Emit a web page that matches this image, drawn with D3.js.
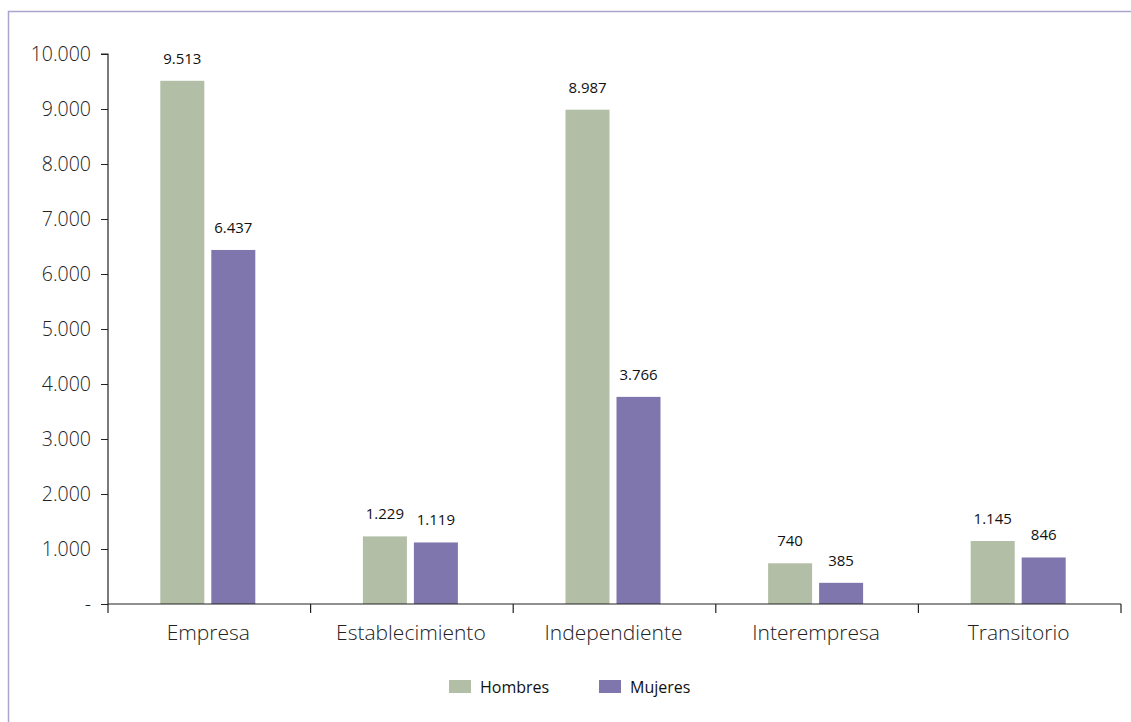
<!DOCTYPE html>
<html><head><meta charset="utf-8">
<script src="https://cdn.jsdelivr.net/npm/d3@7"></script>
<style>
body{margin:0;background:#fff;}
svg{display:block;}
</style></head>
<body><svg id="c" width="1131" height="722"></svg>
<script>
const categories = ["Empresa","Establecimiento","Independiente","Interempresa","Transitorio"];
const series = ["Hombres","Mujeres"];
const hombres = [9513,1229,8987,740,1145];
const mujeres = [6437,1119,3766,385,846];
const valueLabels = [["9.513","1.229","8.987","740","1.145"],["6.437","1.119","3.766","385","846"]];
const yTicks = [0,1000,2000,3000,4000,5000,6000,7000,8000,9000,10000];
const yTickLabels = ["-","1.000","2.000","3.000","4.000","5.000","6.000","7.000","8.000","9.000","10.000"];
const colors = ["#b3bea6","#8076ae"];

const svg = d3.select("#c");
const font = "'Open Sans', sans-serif";
// frame
svg.append("path").attr("d","M8.5,722 V11.5 H1131").attr("fill","none").attr("stroke","#aba4cf").attr("stroke-width",1.5);

const x0 = 108, x1 = 1121, y0 = 604, yTop = 54;
const x = d3.scaleBand().domain(categories).range([x0,x1]).padding(0);
const y = d3.scaleLinear().domain([0,10000]).range([y0,yTop]);
const barW = 44, gap = 7;
const data = [hombres, mujeres];

// bars
series.forEach((s,si)=>{
  const g = svg.append("g");
  categories.forEach((c,ci)=>{
    const cx = x(c) + x.bandwidth()/2 - 1.5;
    const bx = si===0 ? cx - gap/2 - barW : cx + gap/2;
    const v = data[si][ci];
    g.append("rect").attr("x",bx).attr("y",y(v)).attr("width",barW).attr("height",y0-y(v)).attr("fill",colors[si]);
    g.append("text").attr("x",bx+barW/2).attr("y",y(v)-17).attr("text-anchor","middle")
      .attr("font-family",font).attr("font-size",15).attr("fill","#111").text(valueLabels[si][ci]);
  });
});

// y axis
const ya = svg.append("g").attr("transform",`translate(${x0},0)`)
  .call(d3.axisLeft(y).tickValues(yTicks).tickFormat((d,i)=>yTickLabels[i]).tickSize(7).tickPadding(10));
ya.select(".domain").attr("stroke","#222").attr("stroke-width",1.2).attr("d",`M-7,${yTop}H0V${y0}`);
ya.selectAll(".tick line").attr("stroke","#222");
ya.selectAll(".tick text").attr("font-family",font).attr("font-size",19.5).attr("font-weight",300).attr("fill","#222");

// x axis
const xa = svg.append("g").attr("transform",`translate(0,${y0})`);
xa.append("line").attr("x1",x0).attr("x2",x1).attr("stroke","#222").attr("stroke-width",1.2);
const bounds = categories.map(c=>x(c)).concat([x1]);
xa.selectAll("line.t").data(bounds).enter().append("line").attr("class","t")
  .attr("x1",d=>d).attr("x2",d=>d).attr("y1",0).attr("y2",9).attr("stroke","#222").attr("stroke-width",1.2);
xa.selectAll("text").data(categories).enter().append("text")
  .attr("x",d=>x(d)+x.bandwidth()/2 - 1).attr("y",35.5).attr("text-anchor","middle")
  .attr("font-family",font).attr("font-size",21).attr("font-weight",300).attr("fill","#222").text(d=>d);

// legend
const leg = svg.append("g");
const legX = [449, 599];
series.forEach((s,i)=>{
  leg.append("rect").attr("x",legX[i]).attr("y",680).attr("width",22).attr("height",13).attr("fill",colors[i]);
  leg.append("text").attr("x",legX[i]+31).attr("y",693).attr("font-family",font).attr("font-size",16).attr("fill","#111").text(s);
});
</script></body></html>
